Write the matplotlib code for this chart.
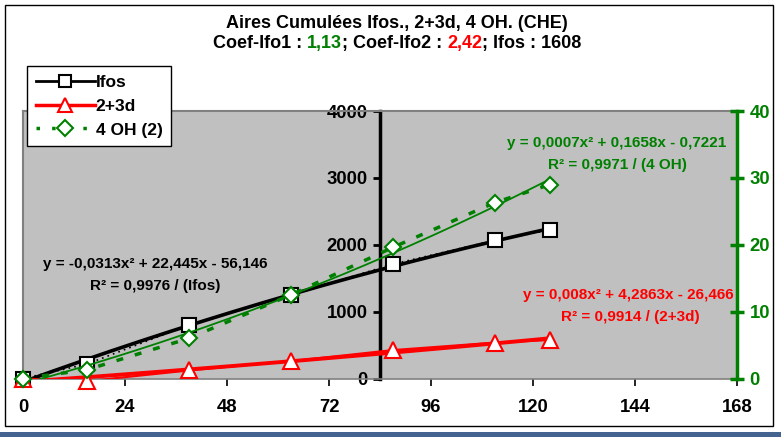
import numpy as np
import matplotlib
matplotlib.use('Agg')
import matplotlib.pyplot as plt
from matplotlib.lines import Line2D
from matplotlib.patches import Rectangle

plt.rcParams['font.family'] = ['Liberation Sans', 'DejaVu Sans']
plt.rcParams['font.weight'] = 'bold'

# ---------------- données ----------------
heures = [0, 15, 39, 63, 87, 111, 124]
ifos = [0, 215, 800, 1245, 1710, 2065, 2220]
d23 = [0, -40, 120, 260, 425, 537, 575]
oh4 = [0, 1.3, 6.0, 12.5, 19.6, 26.3, 29.0]

x_ticks = [0, 24, 48, 72, 96, 120, 144, 168]
y_ticks = [0, 1000, 2000, 3000, 4000]
y2_ticks = [0, 10, 20, 30, 40]

VERT = '#008000'
ROUGE = '#FF0000'
W, H = 781, 437

fig = plt.figure(figsize=(W / 100, H / 100), dpi=100)
ax = fig.add_axes([23 / W, 1 - 378.5 / H, (737 - 23) / W, (378.5 - 111) / H])
ax.set_facecolor('#C0C0C0')
ax.set_xlim(0, 168)
ax.set_ylim(0, 4000)

ax2 = ax.twinx()
ax2.set_ylim(0, 40)

# axes / bordures
ax.spines['top'].set_color('#808080')
ax.spines['top'].set_linewidth(1.5)
ax.spines['bottom'].set_color('#808080')
ax.spines['bottom'].set_linewidth(1.2)
ax.spines['right'].set_visible(False)
ax.spines['left'].set_position(('data', 84))	# axe Y au milieu
ax.spines['left'].set_linewidth(2.5)
ax.spines['left'].set_color('black')

ax2.spines['top'].set_visible(False)
ax2.spines['bottom'].set_visible(False)
ax2.spines['left'].set_color('#808080')
ax2.spines['left'].set_linewidth(1.5)
ax2.spines['right'].set_color(VERT)
ax2.spines['right'].set_linewidth(2.5)

ax.set_xticks(x_ticks)
ax.set_xticklabels([str(v) for v in x_ticks])
ax.set_yticks(y_ticks)
ax.set_yticklabels([str(v) for v in y_ticks])
ax.tick_params(axis='x', direction='out', length=5, width=1.2, color='black',
               labelsize=13.3, pad=9.5)
ax.tick_params(axis='y', direction='out', length=5, width=2, color='black',
               labelsize=13.3, pad=4)
ax2.set_yticks(y2_ticks)
ax2.set_yticklabels([str(v) for v in y2_ticks])
ax2.tick_params(axis='y', direction='inout', length=10, width=2.5, color=VERT,
                labelcolor=VERT, labelsize=13.3, pad=4)
ax2.tick_params(axis='y', which='both', left=False)
for lab in ax.get_xticklabels() + ax.get_yticklabels() + ax2.get_yticklabels():
    lab.set_fontweight('bold')

# courbes de tendance (polynôme d'ordre 2, comme Excel)
xt = np.linspace(0, heures[-1], 300)
ax.plot(xt, np.polyval(np.polyfit(heures, ifos, 2), xt), color='black', lw=2.6, zorder=3)
ax.plot(xt, np.polyval(np.polyfit(heures, d23, 2), xt), color=ROUGE, lw=2.8, zorder=3)
ax2.plot(xt, np.polyval(np.polyfit(heures, oh4, 2), xt), color=VERT, lw=1.3, zorder=3)

# séries
ax.plot(heures, ifos, color='black', lw=1.2, ls=(0, (1, 2.5)), zorder=3)
ax.plot(heures, d23, color=ROUGE, lw=1.5, zorder=3)
ax2.plot(heures, oh4, color=VERT, lw=2.5, ls=(0, (2, 3.5)), zorder=3)

ax.plot(heures, ifos, ls='none', marker='s', ms=9.5, mfc='white', mec='black',
        mew=1.5, clip_on=False, zorder=5)
ax.plot(heures, d23, ls='none', marker='^', ms=11, mfc='white', mec=ROUGE,
        mew=1.5, clip_on=False, zorder=5)
ax2.plot(heures, oh4, ls='none', marker='D', ms=8.5, mfc='white', mec=VERT,
         mew=1.5, clip_on=False, zorder=6)

# légende
handles = [
    Line2D([], [], color='black', lw=2, marker='s', ms=9, mfc='white', mec='black', mew=1.5),
    Line2D([], [], color=ROUGE, lw=2.5, marker='^', ms=10, mfc='white', mec=ROUGE, mew=1.5),
    Line2D([], [], color=VERT, lw=2.5, ls=(0, (1, 3.5)), marker='D', ms=8, mfc='white', mec=VERT, mew=1.5),
]
leg = fig.legend(handles, ['Ifos', '2+3d', '4 OH (2)'], loc='upper left',
                 bbox_to_anchor=(27 / W, 1 - 66 / H), bbox_transform=fig.transFigure,
                 frameon=True, fancybox=False, edgecolor='black', framealpha=1,
                 prop={'size': 12.5, 'weight': 'bold'}, handlelength=3.4,
                 handletextpad=0.05, borderpad=0.5, labelspacing=0.5,
                 borderaxespad=0, numpoints=1)
leg.get_frame().set_linewidth(1.0)
leg.set_zorder(10)

# équations
def txt(x, y, s, c, size=11):
    fig.text(x / W, 1 - y / H, s, color=c, ha='center', va='baseline',
             fontsize=size, fontweight='bold')

txt(155, 268, 'y = -0,0313x² + 22,445x - 56,146', 'black')
txt(155, 290, 'R² = 0,9976 / (Ifos)', 'black')
txt(617, 147, 'y = 0,0007x² + 0,1658x - 0,7221', VERT)
txt(617, 169, 'R² = 0,9971 / (4 OH)', VERT)
txt(628, 299, 'y = 0,008x² + 4,2863x - 26,466', ROUGE)
txt(630, 321, 'R² = 0,9914 / (2+3d)', ROUGE)

# titre
txt(397, 28, 'Aires Cumulées Ifos., 2+3d, 4 OH. (CHE)', 'black', 13)
morceaux = [('Coef-Ifo1 : ', 'black'), ('1,13', VERT), ('; Coef-Ifo2 : ', 'black'),
            ('2,42', ROUGE), ('; Ifos : 1608', 'black')]
rend = fig.canvas.get_renderer()
objs = []
total = 0
for s, c in morceaux:
    t = fig.text(0, 1 - 48 / H, s, color=c, ha='left', va='baseline',
                 fontsize=13, fontweight='bold')
    w = t.get_window_extent(rend).width
    objs.append((t, w))
    total += w
x0 = 397 - total / 2
for t, w in objs:
    t.set_x(x0 / W)
    x0 += w

# cadre et bande
fig.add_artist(Rectangle((5 / W, 1 - 426 / H), (773 - 5) / W, (426 - 5) / H,
                         transform=fig.transFigure, fill=False, edgecolor='black', lw=1))
fig.add_artist(Rectangle((0, 0), 1, 5 / H, transform=fig.transFigure,
                         facecolor='#44648f', edgecolor='none'))

fig.savefig('out.png', dpi=100)
